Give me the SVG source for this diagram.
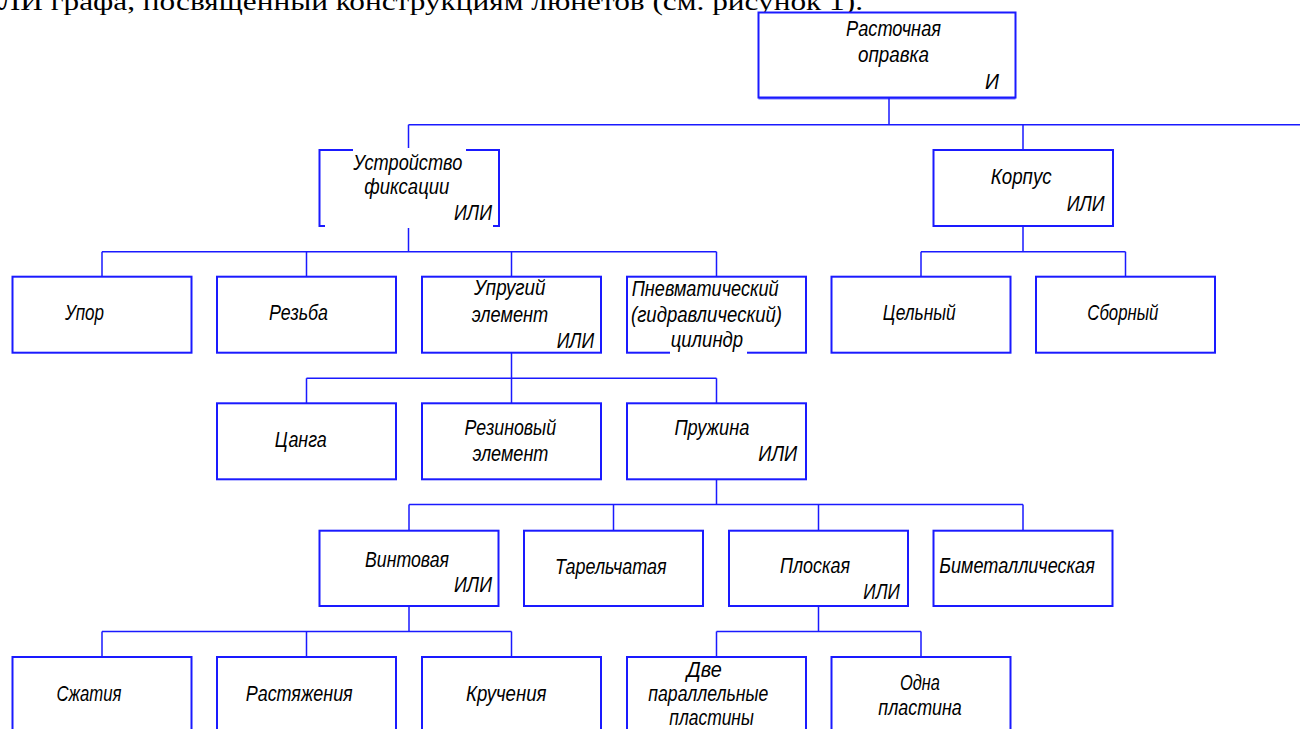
<svg xmlns="http://www.w3.org/2000/svg" width="1300" height="729" viewBox="0 0 1300 729">
<style>
.box{fill:#fff;stroke:#1a1aff;stroke-width:2}
.con{fill:none;stroke:#1a1aff;stroke-width:1.5}
.t{font-family:"Liberation Sans",Arial,sans-serif;font-style:italic;font-size:22.5px;fill:#000}
.hdr{font-family:"Liberation Serif","Times New Roman",serif;font-size:25px;fill:#000}
.gap{fill:#fff;stroke:none}
</style>
<rect x="0" y="0" width="1300" height="729" fill="#fff"/>
<text class="hdr" x="-1" y="10" textLength="864" lengthAdjust="spacingAndGlyphs">ЛИ графа, посвященный конструкциям люнетов (см. рисунок 1).</text>

<g id="connectors">
<path class="con" d="M889 98V124.7M408.5 124.7H1300M408.5 124.7V150M1023 124.7V150"/>
<path class="con" d="M408.5 226V251.7M102 251.7H716.5M102 251.7V276.7M306.5 251.7V276.7M511.5 251.7V276.7M716.5 251.7V276.7"/>
<path class="con" d="M1023 226V251.7M921 251.7H1125.5M921 251.7V276.7M1125.5 251.7V276.7"/>
<path class="con" d="M511.5 352.7V378.3M306.5 378.3H716.5M306.5 378.3V403.3M511.5 378.3V403.3M716.5 378.3V403.3"/>
<path class="con" d="M716.5 479.3V504.5M409 504.5H1023M409 504.5V530.7M613.5 504.5V530.7M818.5 504.5V530.7M1023 504.5V530.7"/>
<path class="con" d="M409 606V631.5M102 631.5H511.5M102 631.5V657M306.5 631.5V657M511.5 631.5V657"/>
<path class="con" d="M818.5 606V631.5M716.5 631.5H921M716.5 631.5V657M921 631.5V657"/>
</g>

<g id="n-rastochnaya">
<rect class="box" x="758.5" y="12.5" width="257" height="85"/>
<line x1="758.5" y1="98.8" x2="1015.5" y2="98.8" stroke="#1a1aff" stroke-width="1"/>
<text class="t" x="846" y="36" textLength="95" lengthAdjust="spacingAndGlyphs">Расточная</text>
<text class="t" x="858" y="62" textLength="71" lengthAdjust="spacingAndGlyphs">оправка</text>
<text class="t" x="985" y="89" textLength="14" lengthAdjust="spacingAndGlyphs">И</text>
</g>

<g id="n-ustroystvo">
<rect class="box" x="319.5" y="150" width="179.5" height="76"/>
<rect class="gap" x="353" y="148" width="113" height="4"/>
<rect class="gap" x="325" y="224" width="168" height="4"/>
<text class="t" x="353.3" y="170" textLength="109" lengthAdjust="spacingAndGlyphs">Устройство</text>
<text class="t" x="364.3" y="194" textLength="85" lengthAdjust="spacingAndGlyphs">фиксации</text>
<text class="t" x="454" y="220" textLength="38" lengthAdjust="spacingAndGlyphs">ИЛИ</text>
</g>

<g id="n-korpus">
<rect class="box" x="933.5" y="150" width="179.5" height="76"/>
<text class="t" x="990.7" y="184" textLength="61" lengthAdjust="spacingAndGlyphs">Корпус</text>
<text class="t" x="1066.7" y="210.7" textLength="38" lengthAdjust="spacingAndGlyphs">ИЛИ</text>
</g>

<g id="n-upor">
<rect class="box" x="12.5" y="276.7" width="179" height="76"/>
<text class="t" x="65" y="320" textLength="39" lengthAdjust="spacingAndGlyphs">Упор</text>
</g>

<g id="n-rezba">
<rect class="box" x="217" y="276.7" width="179" height="76"/>
<text class="t" x="269" y="320" textLength="59" lengthAdjust="spacingAndGlyphs">Резьба</text>
</g>

<g id="n-uprugiy">
<rect class="box" x="422" y="276.7" width="179" height="76"/>
<text class="t" x="474" y="295" textLength="71.5" lengthAdjust="spacingAndGlyphs">Упругий</text>
<text class="t" x="471.7" y="321.7" textLength="76.5" lengthAdjust="spacingAndGlyphs">элемент</text>
<text class="t" x="556.7" y="347.7" textLength="37.5" lengthAdjust="spacingAndGlyphs">ИЛИ</text>
</g>

<g id="n-pnevmo">
<rect class="box" x="627" y="276.7" width="179" height="76"/>
<rect class="gap" x="670" y="350" width="77" height="5"/>
<text class="t" x="631.7" y="296" textLength="147" lengthAdjust="spacingAndGlyphs">Пневматический</text>
<text class="t" x="631" y="321.7" textLength="151" lengthAdjust="spacingAndGlyphs">(гидравлический)</text>
<text class="t" x="670.7" y="346.7" textLength="72.5" lengthAdjust="spacingAndGlyphs">цилиндр</text>
</g>

<g id="n-celny">
<rect class="box" x="831.5" y="276.7" width="179" height="76"/>
<text class="t" x="882.7" y="320" textLength="73" lengthAdjust="spacingAndGlyphs">Цельный</text>
</g>

<g id="n-sborny">
<rect class="box" x="1036" y="276.7" width="179" height="76"/>
<text class="t" x="1087.3" y="320" textLength="71" lengthAdjust="spacingAndGlyphs">Сборный</text>
</g>

<g id="n-canga">
<rect class="box" x="217" y="403.3" width="179" height="76"/>
<text class="t" x="274.8" y="446.7" textLength="52" lengthAdjust="spacingAndGlyphs">Цанга</text>
</g>

<g id="n-rezinovy">
<rect class="box" x="422" y="403.3" width="179" height="76"/>
<text class="t" x="464.6" y="435" textLength="91.5" lengthAdjust="spacingAndGlyphs">Резиновый</text>
<text class="t" x="472.4" y="460.7" textLength="76" lengthAdjust="spacingAndGlyphs">элемент</text>
</g>

<g id="n-pruzhina">
<rect class="box" x="627" y="403.3" width="179" height="76"/>
<text class="t" x="674.4" y="435" textLength="75" lengthAdjust="spacingAndGlyphs">Пружина</text>
<text class="t" x="758.3" y="461" textLength="39" lengthAdjust="spacingAndGlyphs">ИЛИ</text>
</g>

<g id="n-vintovaya">
<rect class="box" x="319.5" y="530.7" width="179" height="75.3"/>
<text class="t" x="365" y="567" textLength="84" lengthAdjust="spacingAndGlyphs">Винтовая</text>
<text class="t" x="454" y="592" textLength="38" lengthAdjust="spacingAndGlyphs">ИЛИ</text>
</g>

<g id="n-tarelchataya">
<rect class="box" x="524" y="530.7" width="179" height="75.3"/>
<text class="t" x="555" y="574" textLength="111.5" lengthAdjust="spacingAndGlyphs">Тарельчатая</text>
</g>

<g id="n-ploskaya">
<rect class="box" x="729" y="530.7" width="179" height="75.3"/>
<text class="t" x="780" y="573.3" textLength="70" lengthAdjust="spacingAndGlyphs">Плоская</text>
<text class="t" x="863.3" y="599" textLength="36.5" lengthAdjust="spacingAndGlyphs">ИЛИ</text>
</g>

<g id="n-bimetall">
<rect class="box" x="933.5" y="530.7" width="179" height="75.3"/>
<text class="t" x="939.3" y="573.3" textLength="155.5" lengthAdjust="spacingAndGlyphs">Биметаллическая</text>
</g>

<g id="n-szhatiya">
<rect class="box" x="12.5" y="657" width="179" height="80"/>
<text class="t" x="56.4" y="700.7" textLength="65" lengthAdjust="spacingAndGlyphs">Сжатия</text>
</g>

<g id="n-rastyazheniya">
<rect class="box" x="217" y="657" width="179" height="80"/>
<text class="t" x="245.7" y="700.7" textLength="107" lengthAdjust="spacingAndGlyphs">Растяжения</text>
</g>

<g id="n-krucheniya">
<rect class="box" x="422" y="657" width="179" height="80"/>
<text class="t" x="466" y="700.7" textLength="80.5" lengthAdjust="spacingAndGlyphs">Кручения</text>
</g>

<g id="n-dve">
<rect class="box" x="627" y="657" width="179" height="80"/>
<text class="t" x="686.7" y="677" textLength="35" lengthAdjust="spacingAndGlyphs">Две</text>
<text class="t" x="648.3" y="701" textLength="120" lengthAdjust="spacingAndGlyphs">параллельные</text>
<text class="t" x="669.3" y="724.5" textLength="84.5" lengthAdjust="spacingAndGlyphs">пластины</text>
</g>

<g id="n-odna">
<rect class="box" x="831.5" y="657" width="179" height="80"/>
<text class="t" x="900" y="690" textLength="40" lengthAdjust="spacingAndGlyphs">Одна</text>
<text class="t" x="878.3" y="715" textLength="83.5" lengthAdjust="spacingAndGlyphs">пластина</text>
</g>
</svg>
